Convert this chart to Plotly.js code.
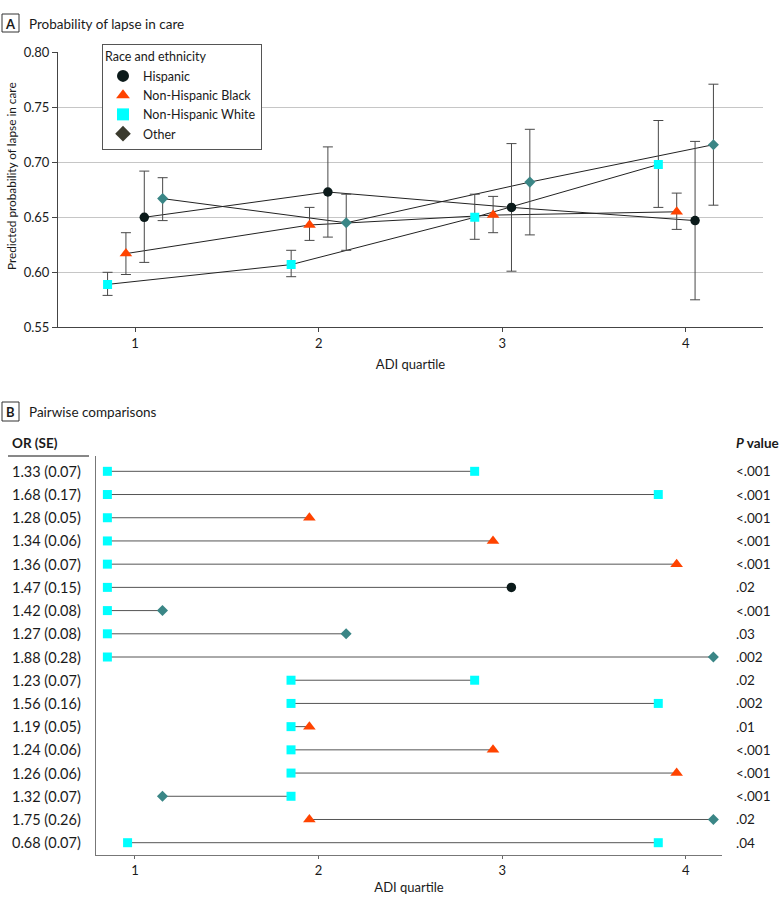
<!DOCTYPE html>
<html>
<head>
<meta charset="utf-8">
<script src="https://cdn.plot.ly/plotly-3.0.1.min.js"></script>
<style>html,body{margin:0;padding:0;background:#fff;}#chart{width:780px;height:908px;}</style>
</head>
<body>
<div id="chart"></div>
<script>
// ---------- DATA ----------
const quartiles = [1, 2, 3, 4];
const groupNames = ['Hispanic', 'Non-Hispanic Black', 'Non-Hispanic White', 'Other'];

const hispanicProb = [0.650, 0.673, 0.659, 0.647];
const hispanicLo   = [0.609, 0.632, 0.601, 0.575];
const hispanicHi   = [0.692, 0.714, 0.717, 0.719];

const blackProb = [0.617, 0.643, 0.652, 0.655];
const blackLo   = [0.598, 0.629, 0.636, 0.639];
const blackHi   = [0.636, 0.659, 0.669, 0.672];

const whiteProb = [0.589, 0.607, 0.650, 0.698];
const whiteLo   = [0.579, 0.596, 0.630, 0.659];
const whiteHi   = [0.600, 0.620, 0.671, 0.738];

const otherProb = [0.667, 0.645, 0.682, 0.716];
const otherLo   = [0.647, 0.620, 0.634, 0.661];
const otherHi   = [0.686, 0.671, 0.730, 0.771];

const yTickVals = [0.55, 0.60, 0.65, 0.70, 0.75, 0.80];

// Panel B: pairwise comparisons
const orLabels = ['1.33 (0.07)', '1.68 (0.17)', '1.28 (0.05)', '1.34 (0.06)', '1.36 (0.07)', '1.47 (0.15)',
  '1.42 (0.08)', '1.27 (0.08)', '1.88 (0.28)', '1.23 (0.07)', '1.56 (0.16)', '1.19 (0.05)', '1.24 (0.06)',
  '1.26 (0.06)', '1.32 (0.07)', '1.75 (0.26)', '0.68 (0.07)'];
const pLabels = ['<.001', '<.001', '<.001', '<.001', '<.001', '.02', '<.001', '.03', '.002', '.02', '.002',
  '.01', '<.001', '<.001', '<.001', '.02', '.04'];
const fromX     = [0.85, 0.85, 0.85, 0.85, 0.85, 0.85, 0.85, 0.85, 0.85, 1.85, 1.85, 1.85, 1.85, 1.85, 1.85, 1.95, 0.96];
const fromGroup = ['W', 'W', 'W', 'W', 'W', 'W', 'W', 'W', 'W', 'W', 'W', 'W', 'W', 'W', 'W', 'B', 'W'];
const toX       = [2.85, 3.85, 1.95, 2.95, 3.95, 3.05, 1.15, 2.15, 4.15, 2.85, 3.85, 1.95, 2.95, 3.95, 1.15, 4.15, 3.85];
const toGroup   = ['W', 'W', 'B', 'B', 'B', 'H', 'O', 'O', 'O', 'W', 'W', 'B', 'B', 'B', 'O', 'O', 'W'];

// ---------- STYLE ----------
const FONT = 'Lato, "Open Sans", sans-serif';
const TXT = '#1a1a1a';
const style = {
  H: {name: 'Hispanic', symbol: 'circle', color: '#0b1a1a', size: 9.5, legendColor: '#0b1a1a', dodge: 0.05},
  B: {name: 'Non-Hispanic Black', symbol: 'triangle-up', color: '#ff4300', size: 11, legendColor: '#ff4300', dodge: -0.05},
  W: {name: 'Non-Hispanic White', symbol: 'square', color: '#00ffff', size: 9, legendColor: '#00ffff', dodge: -0.15},
  O: {name: 'Other', symbol: 'diamond', color: '#3a8686', size: 8.5, legendColor: '#3b3b2e', dodge: 0.15}
};
const series = [
  {k: 'H', p: hispanicProb, lo: hispanicLo, hi: hispanicHi},
  {k: 'B', p: blackProb, lo: blackLo, hi: blackHi},
  {k: 'W', p: whiteProb, lo: whiteLo, hi: whiteHi},
  {k: 'O', p: otherProb, lo: otherLo, hi: otherHi}
];

const W = 780, Hh = 908;
const px = v => v / W;
const py = v => 1 - v / Hh;

const traces = [];
// connecting lines (panel A)
series.forEach(s => {
  const st = style[s.k];
  traces.push({
    type: 'scatter', mode: 'lines', xaxis: 'x', yaxis: 'y', showlegend: false, hoverinfo: 'skip',
    x: quartiles.map(q => q + st.dodge), y: s.p,
    line: {color: '#222', width: 1}
  });
});
// markers + error bars (panel A)
series.forEach(s => {
  const st = style[s.k];
  traces.push({
    type: 'scatter', mode: 'markers', xaxis: 'x', yaxis: 'y', showlegend: false,
    x: quartiles.map(q => q + st.dodge), y: s.p,
    marker: {symbol: st.symbol, color: st.color, size: st.size, line: {width: 0}},
    error_y: {type: 'data', symmetric: false,
      array: s.hi.map((h, i) => h - s.p[i]), arrayminus: s.lo.map((l, i) => s.p[i] - l),
      color: '#484848', thickness: 1, width: 5}
  });
});
// legend entries
['H', 'B', 'W', 'O'].forEach(k => {
  const st = style[k];
  traces.push({
    type: 'scatter', mode: 'markers', xaxis: 'x', yaxis: 'y', x: [null], y: [null], name: st.name,
    marker: {symbol: st.symbol, color: st.legendColor, size: st.size + 2, line: {width: 0}}
  });
});

// panel B lines
const rows = orLabels.map((_, i) => i);
const lx = [], ly = [];
rows.forEach(i => { lx.push(fromX[i], toX[i], null); ly.push(i, i, null); });
traces.push({type: 'scatter', mode: 'lines', xaxis: 'x2', yaxis: 'y2', showlegend: false, hoverinfo: 'skip',
  x: lx, y: ly, line: {color: '#555', width: 1}});
// panel B markers per group
['H', 'B', 'W', 'O'].forEach(k => {
  const st = style[k];
  const mx = [], my = [];
  rows.forEach(i => {
    if (fromGroup[i] === k) { mx.push(fromX[i]); my.push(i); }
    if (toGroup[i] === k) { mx.push(toX[i]); my.push(i); }
  });
  traces.push({type: 'scatter', mode: 'markers', xaxis: 'x2', yaxis: 'y2', showlegend: false,
    x: mx, y: my, marker: {symbol: st.symbol, color: st.color, size: st.size, line: {width: 0}}});
});

const annotations = [
  {text: '<b>A</b>', x: px(10.5), y: py(23.5), xref: 'paper', yref: 'paper', xanchor: 'center', yanchor: 'middle', showarrow: false, font: {size: 13}},
  {text: 'Probability of lapse in care', x: px(27), y: py(24), xref: 'paper', yref: 'paper', xanchor: 'left', yanchor: 'middle', showarrow: false, font: {size: 13.5}},
  {text: '<b>B</b>', x: px(10.5), y: py(411.5), xref: 'paper', yref: 'paper', xanchor: 'center', yanchor: 'middle', showarrow: false, font: {size: 13}},
  {text: 'Pairwise comparisons', x: px(27), y: py(412), xref: 'paper', yref: 'paper', xanchor: 'left', yanchor: 'middle', showarrow: false, font: {size: 13.5}},
  {text: 'Predicted probability of lapse in care', x: px(12), y: py(176), xref: 'paper', yref: 'paper', xanchor: 'center', yanchor: 'middle', textangle: -90, showarrow: false, font: {size: 11.8}},
  {text: '<b>OR (SE)</b>', x: px(10), y: py(443), xref: 'paper', yref: 'paper', xanchor: 'left', yanchor: 'middle', showarrow: false, font: {size: 13.5}},
  {text: '<b><i>P</i> value</b>', x: px(734), y: py(443), xref: 'paper', yref: 'paper', xanchor: 'left', yanchor: 'middle', showarrow: false, font: {size: 13.5}}
];
rows.forEach(i => {
  annotations.push({text: orLabels[i], x: px(10), y: i, xref: 'paper', yref: 'y2', xanchor: 'left', yanchor: 'middle', showarrow: false, font: {size: 14.5}});
  annotations.push({text: pLabels[i], x: px(734), y: i, xref: 'paper', yref: 'y2', xanchor: 'left', yanchor: 'middle', showarrow: false, font: {size: 13.5}});
});

const shapes = [
  {type: 'rect', xref: 'paper', yref: 'paper', x0: px(2), x1: px(19), y0: py(14), y1: py(32), line: {color: '#333', width: 1}},
  {type: 'rect', xref: 'paper', yref: 'paper', x0: px(2), x1: px(19), y0: py(402), y1: py(421), line: {color: '#333', width: 1}},
  {type: 'line', xref: 'paper', yref: 'paper', x0: px(8), x1: px(89), y0: py(456), y1: py(456), line: {color: '#111', width: 1}}
];

const layout = {
  width: W, height: Hh,
  margin: {l: 0, r: 0, t: 0, b: 0},
  paper_bgcolor: '#fff', plot_bgcolor: '#fff',
  font: {family: FONT, size: 13, color: TXT},
  showlegend: true,
  legend: {
    x: px(102), y: py(44), xanchor: 'left', yanchor: 'top',
    bordercolor: '#555', borderwidth: 1, bgcolor: '#fff',
    title: {text: 'Race and ethnicity', font: {size: 12.5}},
    font: {size: 12.5}, tracegroupgap: 0, itemsizing: 'constant'
  },
  xaxis: {
    domain: [px(58), px(763)], range: [0.58, 4.42], anchor: 'y',
    tickvals: quartiles, ticks: 'outside', ticklen: 4, tickcolor: '#444',
    showline: true, linecolor: '#444', linewidth: 1, showgrid: false, zeroline: false,
    title: {text: 'ADI quartile', standoff: 9, font: {size: 13}}, tickfont: {size: 13}
  },
  yaxis: {
    domain: [py(327.3), py(52.3)], range: [0.55, 0.80], anchor: 'x',
    tickvals: yTickVals, tickformat: '.2f', ticks: 'outside', ticklen: 5, tickcolor: '#444',
    showline: true, linecolor: '#444', linewidth: 1, showgrid: true, gridcolor: '#c6c6c6', gridwidth: 1,
    zeroline: false, tickfont: {size: 13}
  },
  xaxis2: {
    domain: [px(96), px(722)], range: [0.788, 4.197], anchor: 'y2',
    tickvals: quartiles, ticks: 'outside', ticklen: 3, tickcolor: '#666',
    showline: true, linecolor: '#777', linewidth: 1, showgrid: false, zeroline: false,
    title: {text: 'ADI quartile', standoff: 6, font: {size: 13}}, tickfont: {size: 13}
  },
  yaxis2: {
    domain: [py(855), py(456)], range: [16.53, -0.66], anchor: 'x2',
    showticklabels: false, ticks: '', showline: true, linecolor: '#777', linewidth: 1,
    showgrid: false, zeroline: false
  },
  annotations: annotations,
  shapes: shapes
};

Plotly.newPlot('chart', traces, layout, {displayModeBar: false, staticPlot: true});
</script>
</body>
</html>
